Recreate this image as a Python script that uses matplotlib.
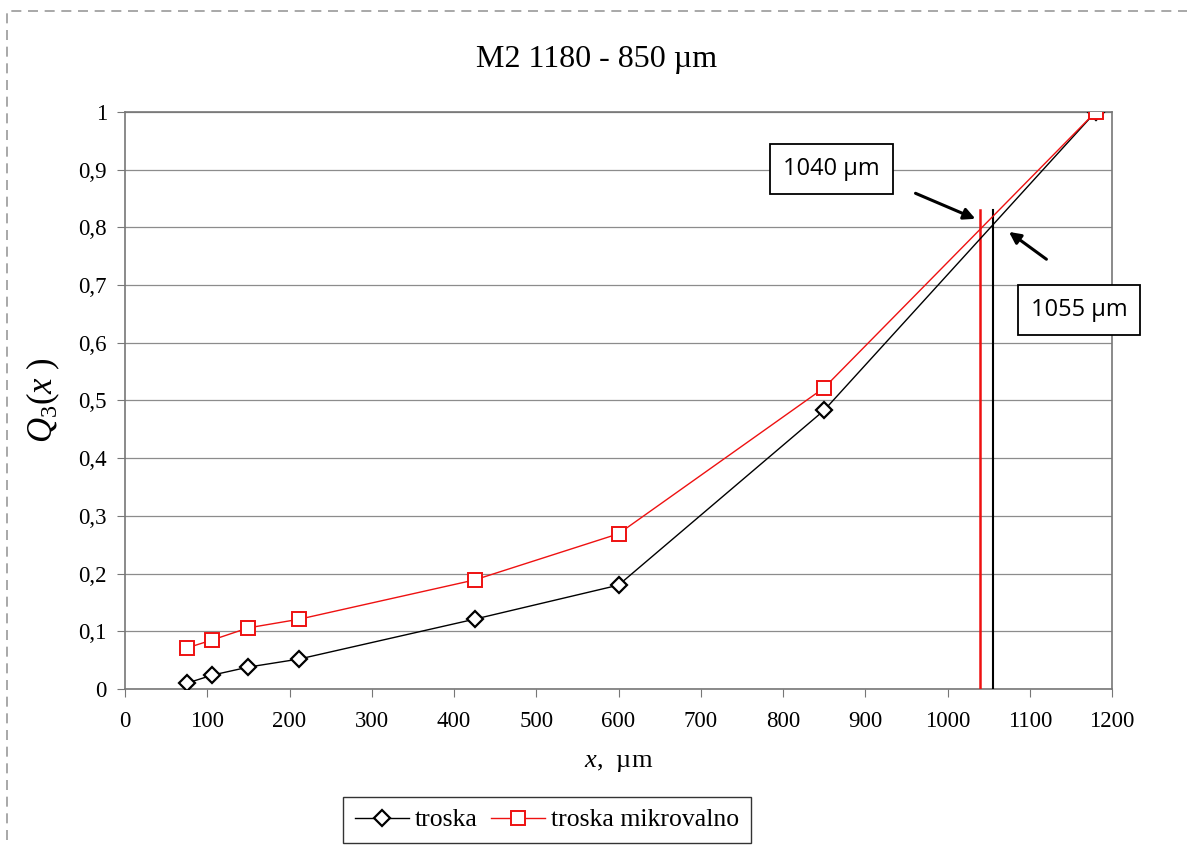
import matplotlib
matplotlib.use("Agg")
import matplotlib.pyplot as plt
from matplotlib.patches import Rectangle
from matplotlib.ticker import FuncFormatter, MultipleLocator

x_um = [75, 106, 150, 212, 425, 600, 850, 1180]
troska = [0.010, 0.024, 0.038, 0.052, 0.121, 0.180, 0.483, 1.000]
troska_mikro = [0.071, 0.085, 0.106, 0.121, 0.189, 0.269, 0.522, 1.000]
d_mikro = 1040
d_troska = 1055
vline_top = 0.83

plt.rcParams['font.family'] = ['Liberation Serif', 'DejaVu Serif']
plt.rcParams['mathtext.fontset'] = 'custom'
plt.rcParams['mathtext.rm'] = 'Liberation Serif'
plt.rcParams['mathtext.it'] = 'Liberation Serif:italic'
plt.rcParams['mathtext.bf'] = 'Liberation Serif:bold'

fig = plt.figure(figsize=(11.87, 8.46), dpi=100)
ax = fig.add_axes([125/1187, 1-689/846, (1112-125)/1187, (689-112)/846])

# dashed outer border
fig.add_artist(Rectangle((7/1187, -0.05), 1.2, 1-11/846+0.05, transform=fig.transFigure,
                         fill=False, ec='#999999', lw=1.2, ls=(0, (6, 4))))

ax.plot(x_um, troska, color='black', lw=1.0, marker='D', ms=8, mfc='white',
        mec='black', mew=1.6, label='troska', zorder=4)
ax.plot(x_um, troska_mikro, color='#ee1111', lw=1.0, marker='s', ms=9.5, mfc='white',
        mec='#ee1111', mew=1.4, label='troska mikrovalno', zorder=4)

ax.plot([d_mikro, d_mikro], [0, vline_top], color='#ee1111', lw=1.8, zorder=3)
ax.plot([d_troska, d_troska], [0, vline_top], color='black', lw=1.5, zorder=3)

ax.set_xlim(0, 1200)
ax.set_ylim(0, 1)
ax.xaxis.set_major_locator(MultipleLocator(100))
ax.yaxis.set_major_locator(MultipleLocator(0.1))
ax.yaxis.set_major_formatter(FuncFormatter(lambda v, p: ('%g' % round(v, 1)).replace('.', ',')))
ax.grid(axis='y', color='#8c8c8c', lw=0.9)
ax.set_axisbelow(True)
for s in ax.spines.values():
    s.set_color('#777777')
    s.set_linewidth(1.2)
ax.tick_params(axis='both', direction='out', length=6, color='#777777', labelsize=16.5)
ax.tick_params(axis='x', pad=10)
ax.tick_params(axis='y', pad=7)

fig.text(597/1187, 1-60/846, 'M2 1180 - 850 µm', ha='center', va='center', fontsize=23)
ax.set_xlabel('$\\it{x}$,  µm', fontsize=19, labelpad=14)
ax.set_ylabel('$\\it{Q}_{3}$($\\it{x}$ )', fontsize=25, labelpad=12)

box = dict(boxstyle='square,pad=0.55', fc='white', ec='black', lw=1.3)
ax.text(859, 0.901, '1040 µm', ha='center', va='center', fontsize=17,
        family=['Open Sans', 'DejaVu Sans'], bbox=box, zorder=6)
ax.text(1160, 0.657, '1055 µm', ha='center', va='center', fontsize=17,
        family=['Open Sans', 'DejaVu Sans'], bbox=box, zorder=6, clip_on=False)
ax.annotate('', xy=(1037, 0.813), xytext=(958, 0.861),
            arrowprops=dict(arrowstyle='-|>', color='black', lw=2.2, mutation_scale=17), zorder=6)
ax.annotate('', xy=(1072, 0.795), xytext=(1123, 0.742),
            arrowprops=dict(arrowstyle='-|>', color='black', lw=2.2, mutation_scale=17), zorder=6)

leg = fig.legend(loc='center', bbox_to_anchor=(547/1187, 1-820/846), ncol=2, fontsize=18.5,
                 frameon=True, fancybox=False, edgecolor='black', handlelength=2.1,
                 columnspacing=0.5, handletextpad=0.25, borderpad=0.45)
leg.get_frame().set_linewidth(1.0)

fig.savefig('out.png', dpi=100)
